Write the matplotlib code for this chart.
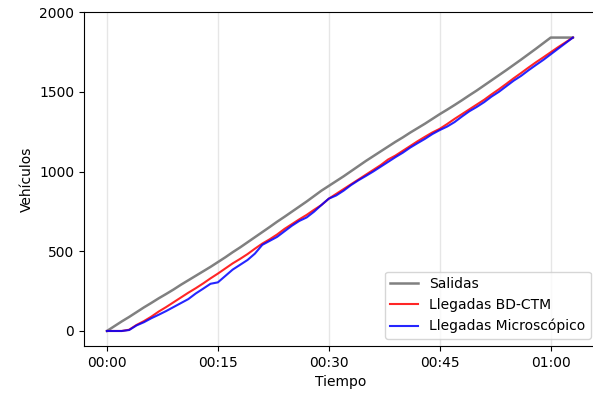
import matplotlib
matplotlib.use("Agg")
import matplotlib.pyplot as plt
import matplotlib.dates as mdates
import numpy as np
import pandas as pd

# minutos desde el inicio (una muestra por minuto)
minutos = list(range(0, 64))

salidas = [0, 30, 60, 88, 118, 148, 176, 205, 232, 260,
           290, 318, 346, 374, 402, 432, 462, 494, 524, 556,
           588, 620, 652, 685, 716, 748, 780, 812, 846, 880,
           910, 940, 970, 1002, 1034, 1066, 1096, 1126, 1156, 1186,
           1214, 1244, 1272, 1300, 1330, 1360, 1388, 1417, 1447, 1478,
           1508, 1540, 1572, 1604, 1636, 1669, 1702, 1736, 1770, 1805,
           1840, 1840, 1840, 1840]

llegadas_ctm = [0, 0, 0, 8, 38, 62, 90, 122, 150, 180,
                210, 240, 268, 298, 330, 360, 392, 424, 452, 482,
                516, 548, 575, 605, 640, 670, 700, 728, 760, 790,
                830, 860, 890, 920, 950, 980, 1010, 1040, 1075, 1100,
                1130, 1160, 1190, 1218, 1245, 1268, 1298, 1330, 1360, 1390,
                1420, 1450, 1484, 1516, 1550, 1585, 1618, 1652, 1685, 1716,
                1748, 1780, 1810, 1840]

llegadas_micro = [0, 0, 0, 6, 35, 55, 80, 102, 125, 150,
                  175, 200, 235, 265, 296, 305, 345, 385, 415, 445,
                  485, 540, 565, 590, 625, 660, 690, 712, 748, 790,
                  830, 850, 880, 915, 945, 972, 1000, 1030, 1060, 1090,
                  1118, 1150, 1178, 1205, 1235, 1260, 1282, 1310, 1345, 1378,
                  1405, 1435, 1470, 1500, 1535, 1570, 1600, 1635, 1668, 1700,
                  1735, 1770, 1805, 1840]

inicio = pd.Timestamp("2021-01-01 00:00")
tiempo = inicio + pd.to_timedelta(minutos, unit="m")

fig = plt.figure(figsize=(5.93, 3.98), dpi=100)
ax = fig.add_axes([0.1417, 0.1307, 0.8668, 0.839])

ax.plot(tiempo, salidas, color="gray", lw=1.8, label="Salidas")
ax.plot(tiempo, llegadas_ctm, color="red", lw=1.5, alpha=0.85, label="Llegadas BD-CTM")
ax.plot(tiempo, llegadas_micro, color="blue", lw=1.5, alpha=0.85, label="Llegadas Microscópico")

ax.xaxis.set_major_locator(mdates.MinuteLocator(byminute=[0, 15, 30, 45]))
ax.xaxis.set_major_formatter(mdates.DateFormatter("%H:%M"))
ax.set_xlim(inicio - pd.Timedelta(minutes=3.1), inicio + pd.Timedelta(minutes=66.4))
ax.set_ylim(-94, 2000)
ax.set_yticks([0, 500, 1000, 1500, 2000])
ax.grid(axis="x", color="#e6e6e6", lw=1)

ax.set_xlabel("Tiempo")
ax.set_ylabel("Vehículos")
ax.legend(loc="lower right", fontsize=10)

fig.savefig("out.png", dpi=100)
